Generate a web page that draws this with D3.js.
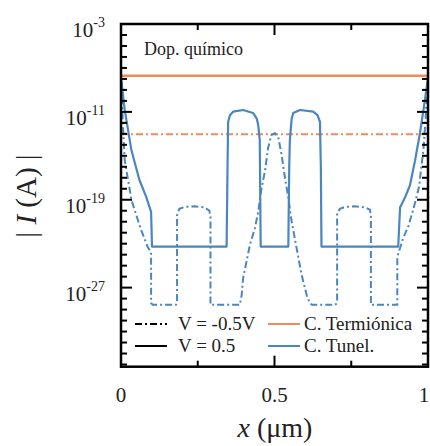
<!DOCTYPE html>
<html>
<head>
<meta charset="utf-8">
<script src="https://cdn.jsdelivr.net/npm/d3@7"></script>
<style>
  body { margin: 0; background: #fff; }
  svg { display: block; }
</style>
</head>
<body>
<div id="chart"></div>
<script>
// C. Tunel., V = 0.5 (x in um, log10 |I|)
const tunelX05 = [0.001, 0.012, 0.034, 0.060, 0.0815, 0.098, 0.101,
  0.344, 0.347, 0.349, 0.355, 0.365, 0.398, 0.430, 0.442, 0.447, 0.452, 0.455,
  0.545, 0.548, 0.550, 0.556, 0.561, 0.583, 0.626, 0.640, 0.648, 0.651, 0.653,
  0.903, 0.909, 0.925, 0.941, 0.958, 0.974, 0.990, 0.999];
const tunelLogI05 = [-8.1, -10.8, -14.5, -17.2, -18.7, -20.1, -23.26,
  -23.26, -16.0, -11.9, -11.3, -10.98, -10.83, -11.1, -11.6, -12.2, -13.6, -23.26,
  -23.26, -16.0, -13.6, -11.6, -11.1, -10.83, -10.98, -11.3, -11.9, -16.0, -23.26,
  -23.26, -19.7, -18.8, -17.7, -15.4, -12.9, -9.9, -8.1];

// C. Tunel., V = -0.5
const tunelXm05 = [0.001, 0.0055, 0.012, 0.023, 0.034, 0.044, 0.065, 0.087, 0.098, 0.098,
  0.103, 0.179, 0.1826, 0.1826, 0.190, 0.208, 0.240, 0.273, 0.288, 0.2915, 0.2915,
  0.387, 0.393, 0.398, 0.420, 0.436, 0.447, 0.458, 0.469, 0.479, 0.490, 0.501, 0.512,
  0.523, 0.534, 0.545, 0.556, 0.572, 0.588, 0.605, 0.615, 0.622,
  0.697, 0.704, 0.704, 0.713, 0.729, 0.762, 0.794, 0.811, 0.814, 0.814,
  0.900, 0.900, 0.909, 0.919, 0.936, 0.952, 0.963, 0.971, 0.977, 0.985, 0.992, 0.998];
const tunelLogIm05 = [-8.3, -11.7, -15.4, -17.2, -19.0, -19.9, -21.7, -23.3, -23.8, -28.4,
  -28.57, -28.57, -28.4, -20.4, -19.83, -19.65, -19.6, -19.7, -20.0, -20.6, -28.57,
  -28.57, -27.7, -26.1, -23.1, -21.6, -20.1, -17.9, -16.4, -14.3, -13.1, -12.95, -13.25,
  -14.9, -17.0, -18.8, -21.0, -23.4, -25.8, -27.7, -28.4, -28.57,
  -28.57, -28.4, -20.2, -19.83, -19.65, -19.6, -19.7, -19.9, -20.5, -28.57,
  -28.57, -24.2, -23.4, -22.5, -21.4, -19.9, -18.7, -17.8, -16.3, -14.5, -11.7, -8.5];

// C. Termionica (flat)
const termX = [0, 1];
const termLogI05 = [-7.7, -7.7];
const termLogIm05 = [-13.04, -13.04];

const xMajor = [0, 0.5, 1];
const xMinor = [0.25, 0.75];
const yMajorExp = [-3, -11, -19, -27];
const yMinorExp = d3.range(-4, -35, -1).filter(e => !yMajorExp.includes(e));

const W = 430, H = 446;
const pLeft = 121, pTop = 24, pRight = 428, pBottom = 366.7;
const serif = "'Liberation Serif', 'DejaVu Serif', serif";
const orange = "#f08a5b", blue = "#4a86bf";

const svg = d3.select("#chart").append("svg")
  .attr("width", W).attr("height", H)
  .style("font-family", serif);

const x = d3.scaleLinear().domain([0, 1]).range([pLeft, pRight]);
const y = d3.scaleLog().domain([1e-3, Math.pow(10, -34.2)]).range([pTop, pBottom]);

svg.append("clipPath").attr("id", "clip")
  .append("rect").attr("x", pLeft).attr("y", pTop)
  .attr("width", pRight - pLeft).attr("height", pBottom - pTop);

const plot = svg.append("g").attr("clip-path", "url(#clip)");

const line = d3.line()
  .x(d => x(d[0]))
  .y(d => y(Math.pow(10, d[1])));

const zip = (xs, ys) => xs.map((v, i) => [v, ys[i]]);

plot.append("path").datum(zip(termX, termLogI05))
  .attr("d", line).attr("fill", "none")
  .attr("stroke", orange).attr("stroke-width", 2.5);

plot.append("path").datum(zip(termX, termLogIm05))
  .attr("d", line).attr("fill", "none")
  .attr("stroke", orange).attr("stroke-width", 2)
  .attr("stroke-dasharray", "7,3,2,3");

plot.append("path").datum(zip(tunelXm05, tunelLogIm05))
  .attr("d", line).attr("fill", "none")
  .attr("stroke", blue).attr("stroke-width", 2)
  .attr("stroke-dasharray", "7,3,2,3");

plot.append("path").datum(zip(tunelX05, tunelLogI05))
  .attr("d", line).attr("fill", "none")
  .attr("stroke", blue).attr("stroke-width", 2.2)
  .attr("stroke-linejoin", "round");

// ticks (inward, all four sides)
const tickG = svg.append("g").attr("stroke", "#000").attr("stroke-width", 2);
yMajorExp.forEach(e => {
  const yy = y(Math.pow(10, e));
  tickG.append("line").attr("x1", pLeft).attr("x2", pLeft + 11).attr("y1", yy).attr("y2", yy);
  tickG.append("line").attr("x1", pRight).attr("x2", pRight - 11).attr("y1", yy).attr("y2", yy);
});
yMinorExp.forEach(e => {
  const yy = y(Math.pow(10, e));
  tickG.append("line").attr("x1", pLeft).attr("x2", pLeft + 6).attr("y1", yy).attr("y2", yy);
  tickG.append("line").attr("x1", pRight).attr("x2", pRight - 6).attr("y1", yy).attr("y2", yy);
});
xMajor.forEach(v => {
  tickG.append("line").attr("x1", x(v)).attr("x2", x(v)).attr("y1", pBottom).attr("y2", pBottom - 11);
  tickG.append("line").attr("x1", x(v)).attr("x2", x(v)).attr("y1", pTop).attr("y2", pTop + 11);
});
xMinor.forEach(v => {
  tickG.append("line").attr("x1", x(v)).attr("x2", x(v)).attr("y1", pBottom).attr("y2", pBottom - 6);
  tickG.append("line").attr("x1", x(v)).attr("x2", x(v)).attr("y1", pTop).attr("y2", pTop + 6);
});

svg.append("rect")
  .attr("x", pLeft).attr("y", pTop)
  .attr("width", pRight - pLeft).attr("height", pBottom - pTop)
  .attr("fill", "none").attr("stroke", "#000").attr("stroke-width", 2.5);

// y tick labels
yMajorExp.forEach(e => {
  const t = svg.append("text")
    .attr("x", 105).attr("y", y(Math.pow(10, e)) + 13)
    .attr("text-anchor", "end").attr("font-size", 21).attr("fill", "#222");
  t.append("tspan").text("10");
  t.append("tspan").attr("dy", -10).attr("font-size", 14).text(String(e));
});

// x tick labels (last one pulled in from the edge)
svg.selectAll(".xl").data(xMajor).enter().append("text")
  .attr("x", d => d === 1 ? x(d) - 4 : x(d)).attr("y", 402)
  .attr("text-anchor", "middle").attr("font-size", 21).attr("fill", "#222")
  .text(d => String(d));

// axis titles
const xt = svg.append("text").attr("x", 275).attr("y", 437)
  .attr("text-anchor", "middle").attr("font-size", 28).attr("fill", "#222");
xt.append("tspan").attr("font-style", "italic").text("x");
xt.append("tspan").text(" (\u03bcm)");

const yt = svg.append("text")
  .attr("transform", "translate(36,196) rotate(-90)")
  .attr("text-anchor", "middle").attr("font-size", 29).attr("fill", "#222");
yt.append("tspan").text("| ");
yt.append("tspan").attr("font-style", "italic").text("I");
yt.append("tspan").text(" (A) |");

svg.append("text").attr("x", 144).attr("y", 55)
  .attr("font-size", 18).attr("fill", "#222").text("Dop. químico");

// legend
const legend = [
  { label: "V = -0.5V", color: "#000", dash: "7,3,2,3", lx: 135, ly: 324 },
  { label: "V = 0.5", color: "#000", dash: null, lx: 135, ly: 346 },
  { label: "C. Termiónica", color: orange, dash: null, lx: 268, ly: 324 },
  { label: "C. Tunel.", color: blue, dash: null, lx: 268, ly: 346 }
];
legend.forEach(d => {
  svg.append("line")
    .attr("x1", d.lx).attr("x2", d.lx + 32).attr("y1", d.ly).attr("y2", d.ly)
    .attr("stroke", d.color).attr("stroke-width", 2)
    .attr("stroke-dasharray", d.dash);
  svg.append("text")
    .attr("x", d.lx + (d.lx < 200 ? 43 : 36)).attr("y", d.ly + 6)
    .attr("font-size", 19).attr("fill", "#222").text(d.label);
});
</script>
</body>
</html>
